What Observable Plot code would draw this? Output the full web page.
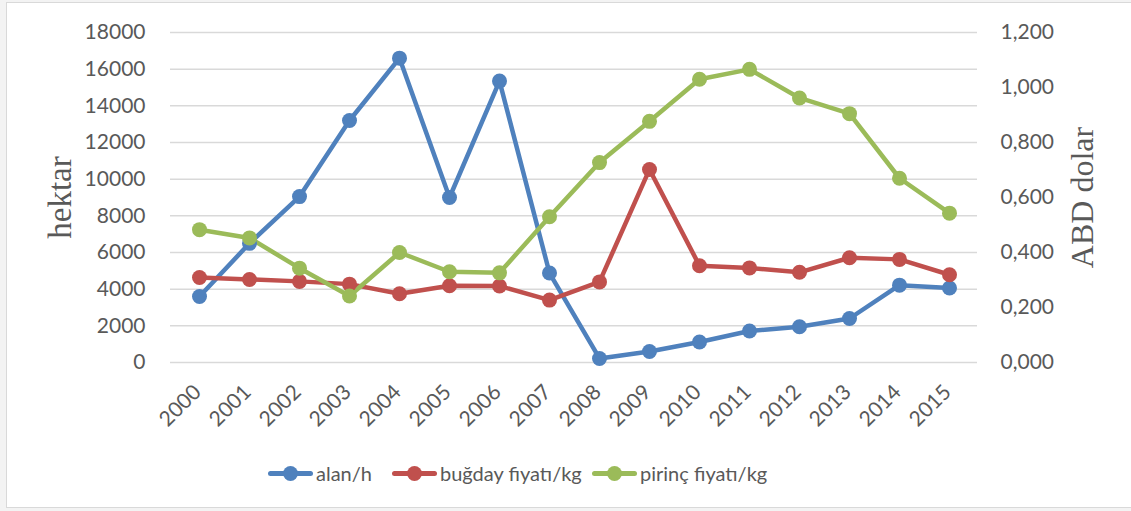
<!DOCTYPE html>
<html>
<head>
<meta charset="utf-8">
<script src="https://cdn.jsdelivr.net/npm/d3@7"></script>
<script src="https://cdn.jsdelivr.net/npm/@observablehq/plot@0.6"></script>
<style>
  html, body { margin: 0; padding: 0; background: #f3f3f3; width: 1131px; height: 511px; overflow: hidden; }
  #frame { position: absolute; left: 6px; top: 2px; width: 1140px; height: 506px; background: #fff; border: 1px solid #d9d9d9; box-sizing: border-box; }
  #chart { position: absolute; left: 0; top: 0; }
  #legend { position: absolute; left: 0; top: 460px; width: 1131px; height: 26px; font-family: Lato, sans-serif; font-size: 20px; color: #595959; }
  .item { position: absolute; top: 0; display: flex; align-items: center; height: 26px; }
  .sw { position: relative; width: 45px; height: 26px; margin-right: 3px; }
  .sw .ln { position: absolute; left: 0; top: 11px; width: 45px; height: 5px; border-radius: 2.5px; }
  .sw .dt { position: absolute; left: 15px; top: 6px; width: 15px; height: 15px; border-radius: 50%; }
</style>
</head>
<body>
<div id="frame"></div>
<div id="chart"></div>
<div id="legend"></div>
<script>
const years = ["2000","2001","2002","2003","2004","2005","2006","2007","2008","2009","2010","2011","2012","2013","2014","2015"];
const alan = [3600, 6500, 9050, 13200, 16600, 9000, 15350, 4880, 220, 600, 1120, 1720, 1950, 2400, 4220, 4060];
const bugday = [0.309, 0.302, 0.295, 0.285, 0.250, 0.279, 0.278, 0.227, 0.293, 0.702, 0.352, 0.344, 0.328, 0.381, 0.375, 0.319];
const pirinc = [0.483, 0.453, 0.343, 0.242, 0.400, 0.330, 0.326, 0.530, 0.727, 0.877, 1.030, 1.066, 0.962, 0.905, 0.670, 0.543];
const leftTicks = [0, 2000, 4000, 6000, 8000, 10000, 12000, 14000, 16000, 18000];
const rightTicks = [0, 0.2, 0.4, 0.6, 0.8, 1.0, 1.2];
const seriesNames = ["alan/h", "buğday fiyatı/kg", "pirinç fiyatı/kg"];
const colors = ["#4f81bd", "#c0504d", "#9bbb59"];

// right axis (ABD dolar) mapped onto the left scale: 1.2 dollar <-> 18000 hectare
const k = 18000 / 1.2;
const rows = [];
years.forEach((y, i) => {
  rows.push({year: y, series: seriesNames[0], y: alan[i]});
  rows.push({year: y, series: seriesNames[1], y: bugday[i] * k});
  rows.push({year: y, series: seriesNames[2], y: pirinc[i] * k});
});

const font = "Lato, sans-serif";
const chart = Plot.plot({
  width: 1131,
  height: 445,
  marginLeft: 170,
  marginRight: 154,
  marginTop: 32,
  marginBottom: 83,
  style: {fontFamily: font, fontSize: "21px", color: "#595959", background: "transparent", overflow: "visible"},
  x: {type: "band", domain: years, padding: 0},
  y: {domain: [0, 18000]},
  marks: [
    Plot.ruleY(leftTicks, {stroke: "#d9d9d9", strokeWidth: 1.5}),
    Plot.axisY({ticks: leftTicks, tickSize: 0, tickPadding: 25, tickFormat: d => String(d), label: null, fontSize: 21}),
    Plot.axisY({anchor: "right", ticks: rightTicks.map(v => v * k), tickSize: 0, tickPadding: 23,
      tickFormat: d => (d / k).toFixed(3).replace(".", ","), label: null, fontSize: 21}),
    Plot.axisX({tickSize: 0, tickRotate: -45, tickPadding: 26, dx: -2, label: null, fontSize: 21}),
    ...seriesNames.map((s, i) => Plot.line(rows.filter(r => r.series === s), {x: "year", y: "y", stroke: colors[i], strokeWidth: 4.5, strokeLinejoin: "round"})),
    ...seriesNames.map((s, i) => Plot.dot(rows.filter(r => r.series === s), {x: "year", y: "y", fill: colors[i], r: 7.5})),
    Plot.text(["hektar"], {frameAnchor: "left", textAnchor: "middle", dx: -110, rotate: -90, fontFamily: "'Liberation Serif', serif", fontSize: 33, fill: "#595959"}),
    Plot.text(["ABD dolar"], {frameAnchor: "right", textAnchor: "middle", dx: 105, rotate: -90, fontFamily: "'Liberation Serif', serif", fontSize: 32, fill: "#595959"})
  ]
});
document.getElementById("chart").appendChild(chart);

const legend = document.getElementById("legend");
const lefts = [268, 392, 592];
seriesNames.forEach((s, i) => {
  const it = document.createElement("div");
  it.className = "item";
  it.style.left = lefts[i] + "px";
  it.innerHTML = `<div class="sw"><div class="ln" style="background:${colors[i]}"></div><div class="dt" style="background:${colors[i]}"></div></div><span>${s}</span>`;
  legend.appendChild(it);
});
</script>
</body>
</html>
